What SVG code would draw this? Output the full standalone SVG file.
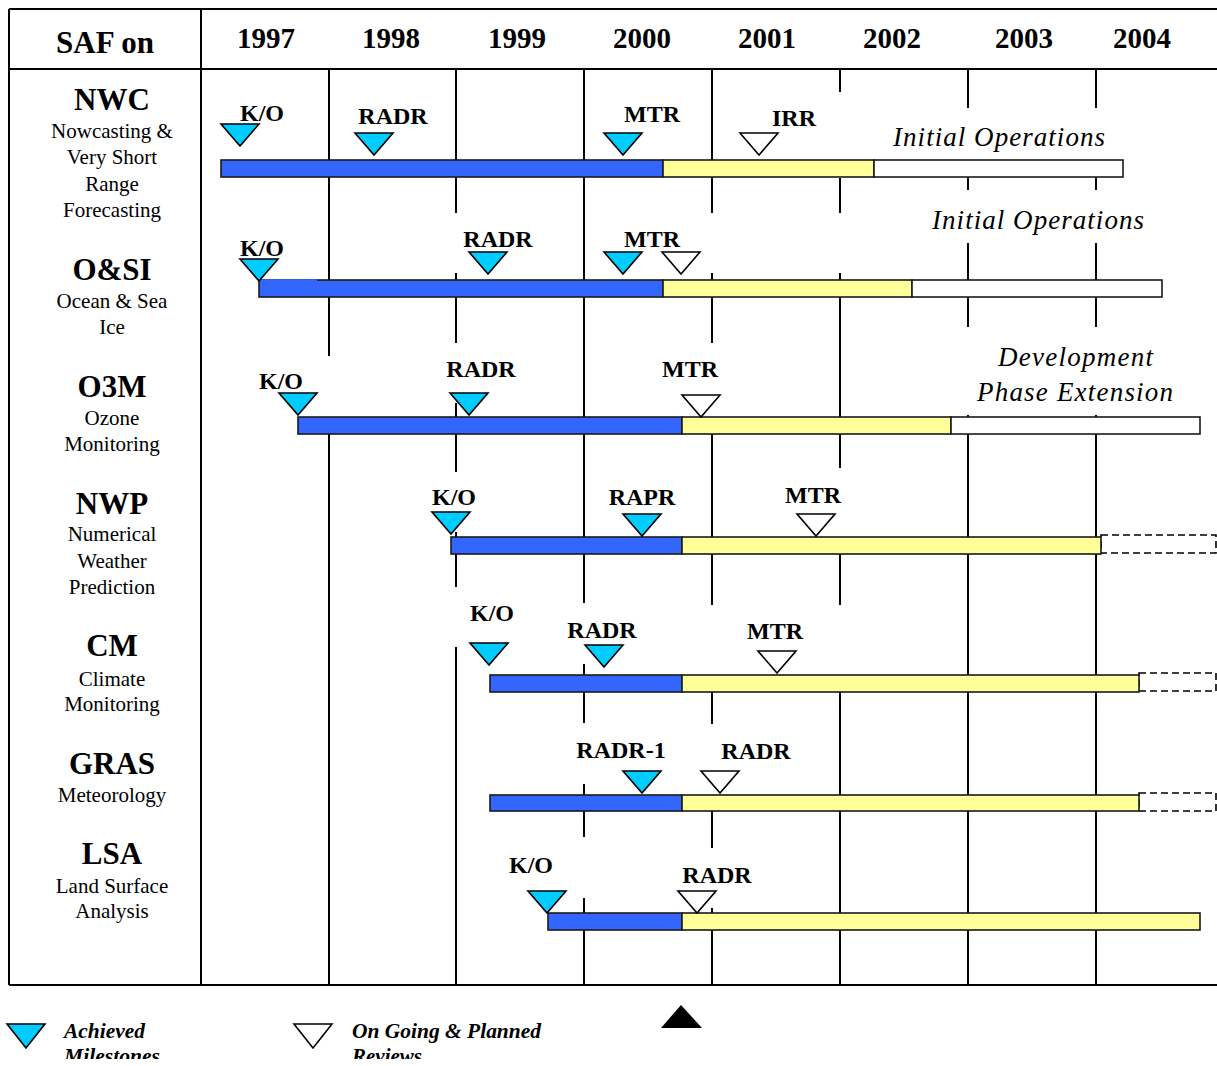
<svg xmlns="http://www.w3.org/2000/svg" width="1217" height="1066" viewBox="0 0 1217 1066">
<style>
  .frame{stroke:#000;stroke-width:2;fill:none}
  .grid{stroke:#000;stroke-width:2;fill:none}
  .bar{stroke:#1a1a1a;stroke-width:1.6}
  .blue{fill:#3366FF}
  .yel{fill:#FFFF99}
  .wht{fill:#FFFFFF}
  .dash{fill:#FFFFFF;stroke:#000;stroke-width:1.6;stroke-dasharray:7,4}
  .ach{fill:#00CCFF;stroke:#000;stroke-width:1.6;stroke-linejoin:miter}
  .plan{fill:#FFFFFF;stroke:#000;stroke-width:1.6}
  text{font-family:"Liberation Serif","Times New Roman",serif;fill:#000}
  .lbl{font-weight:bold;font-size:24px;text-anchor:middle}
  .yr{font-weight:bold;font-size:29px;text-anchor:middle}
  .hd{font-weight:bold;font-size:31px;text-anchor:middle}
  .name{font-weight:bold;font-size:31px;text-anchor:middle}
  .sub{font-size:21px;text-anchor:middle}
  .ital{font-style:italic;font-size:27px}
  .leg{font-style:italic;font-weight:bold;font-size:22px}
</style>
<defs>
  <clipPath id="legclip"><rect x="0" y="990" width="1217" height="69"/></clipPath>
</defs>
<rect x="0" y="0" width="1217" height="1066" fill="#fff"/>

<g id="frame">
  <line class="frame" x1="9" y1="9" x2="1217" y2="9"/>
  <line class="frame" x1="9" y1="69" x2="1217" y2="69"/>
  <line class="frame" x1="9" y1="985" x2="1217" y2="985"/>
  <line class="frame" x1="9" y1="9" x2="9" y2="985"/>
  <line class="frame" x1="201" y1="9" x2="201" y2="985"/>
</g>

<g id="header">
  <text class="hd" x="105" y="53">SAF on</text>
  <text class="yr" x="266" y="48">1997</text>
  <text class="yr" x="391" y="48">1998</text>
  <text class="yr" x="517" y="48">1999</text>
  <text class="yr" x="642" y="48">2000</text>
  <text class="yr" x="767" y="48">2001</text>
  <text class="yr" x="892" y="48">2002</text>
  <text class="yr" x="1024" y="48">2003</text>
  <text class="yr" x="1142" y="48">2004</text>
</g>

<g id="grid">
  <path class="grid" d="M329,69V356M329,417V985"/>
  <path class="grid" d="M456,69V213M456,273V343M456,403V472M456,532V587M456,647V985"/>
  <path class="grid" d="M584,69V603M584,664V723M584,784V837M584,898V985"/>
  <path class="grid" d="M712,69V213M712,273V343M712,417V605M712,692V724M712,795V848M712,908V985"/>
  <path class="grid" d="M840,69V92M840,178V213M840,273V468M840,537V605M840,692V985"/>
  <path class="grid" d="M968,69V108M968,160V190M968,243V327M968,415V985"/>
  <path class="grid" d="M1096,69V108M1096,160V190M1096,243V327M1096,415V985"/>
</g>

<g id="row-nwc">
  <text class="name" x="112" y="110">NWC</text>
  <text class="sub" x="112" y="138">Nowcasting &amp;</text>
  <text class="sub" x="112" y="164">Very Short</text>
  <text class="sub" x="112" y="191">Range</text>
  <text class="sub" x="112" y="217">Forecasting</text>
  <rect class="bar blue" x="221" y="160" width="442" height="17"/>
  <rect class="bar yel" x="663" y="160" width="211" height="17"/>
  <rect class="bar wht" x="874" y="160" width="249" height="17"/>
  <polygon class="ach" points="221,124 259,124 240,146"/>
  <polygon class="ach" points="355,133 393,133 374,155"/>
  <polygon class="ach" points="604,133 642,133 623,155"/>
  <polygon class="plan" points="740,133 778,133 759,155"/>
  <text class="lbl" x="262" y="121">K/O</text>
  <text class="lbl" x="393" y="124">RADR</text>
  <text class="lbl" x="652" y="122">MTR</text>
  <text class="lbl" x="794" y="126">IRR</text>
  <text class="ital" x="893" y="146" textLength="212">Initial Operations</text>
</g>

<g id="row-osi">
  <text class="name" x="112" y="280">O&amp;SI</text>
  <text class="sub" x="112" y="308">Ocean &amp; Sea</text>
  <text class="sub" x="112" y="334">Ice</text>
  <rect class="bar blue" x="259" y="280" width="404" height="17"/>
  <line x1="260" y1="280.2" x2="317" y2="280.2" stroke="#3366FF" stroke-width="2"/>
  <rect class="bar yel" x="663" y="280" width="249" height="17"/>
  <rect class="bar wht" x="912" y="280" width="250" height="17"/>
  <polygon class="ach" points="240,259 278,259 259,281"/>
  <polygon class="ach" points="469,252 507,252 488,274"/>
  <polygon class="ach" points="604,252 642,252 623,274"/>
  <polygon class="plan" points="662,252 700,252 681,274"/>
  <text class="lbl" x="262" y="256">K/O</text>
  <text class="lbl" x="498" y="247">RADR</text>
  <text class="lbl" x="652" y="247">MTR</text>
  <text class="ital" x="932" y="229" textLength="212">Initial Operations</text>
</g>

<g id="row-o3m">
  <text class="name" x="112" y="397">O3M</text>
  <text class="sub" x="112" y="425">Ozone</text>
  <text class="sub" x="112" y="451">Monitoring</text>
  <rect class="bar blue" x="298" y="417" width="384" height="17"/>
  <rect class="bar yel" x="682" y="417" width="269" height="17"/>
  <rect class="bar wht" x="951" y="417" width="249" height="17"/>
  <polygon class="ach" points="279,393 317,393 298,415"/>
  <polygon class="ach" points="450,393 488,393 469,415"/>
  <polygon class="plan" points="682,395 720,395 701,417"/>
  <text class="lbl" x="281" y="389">K/O</text>
  <text class="lbl" x="481" y="377">RADR</text>
  <text class="lbl" x="690" y="377">MTR</text>
  <text class="ital" x="998" y="366" textLength="155">Development</text>
  <text class="ital" x="977" y="401" textLength="196">Phase Extension</text>
</g>

<g id="row-nwp">
  <text class="name" x="112" y="514">NWP</text>
  <text class="sub" x="112" y="541">Numerical</text>
  <text class="sub" x="112" y="568">Weather</text>
  <text class="sub" x="112" y="594">Prediction</text>
  <rect class="dash" x="1101" y="535" width="115" height="18"/>
  <rect class="bar blue" x="451" y="537" width="231" height="17"/>
  <rect class="bar yel" x="682" y="537" width="419" height="17"/>
  <polygon class="ach" points="432,512 470,512 451,534"/>
  <polygon class="ach" points="623,514 661,514 642,536"/>
  <polygon class="plan" points="797,514 835,514 816,536"/>
  <text class="lbl" x="454" y="505">K/O</text>
  <text class="lbl" x="642" y="505">RAPR</text>
  <text class="lbl" x="813" y="503">MTR</text>
</g>

<g id="row-cm">
  <text class="name" x="112" y="656">CM</text>
  <text class="sub" x="112" y="686">Climate</text>
  <text class="sub" x="112" y="711">Monitoring</text>
  <rect class="dash" x="1139" y="673" width="77" height="18"/>
  <rect class="bar blue" x="490" y="675" width="192" height="17"/>
  <rect class="bar yel" x="682" y="675" width="457" height="17"/>
  <polygon class="ach" points="470,643 508,643 489,665"/>
  <polygon class="ach" points="585,645 623,645 604,667"/>
  <polygon class="plan" points="758,651 796,651 777,673"/>
  <text class="lbl" x="492" y="621">K/O</text>
  <text class="lbl" x="602" y="638">RADR</text>
  <text class="lbl" x="775" y="639">MTR</text>
</g>

<g id="row-gras">
  <text class="name" x="112" y="774">GRAS</text>
  <text class="sub" x="112" y="802">Meteorology</text>
  <rect class="dash" x="1139" y="793" width="77" height="18"/>
  <rect class="bar blue" x="490" y="795" width="192" height="16"/>
  <rect class="bar yel" x="682" y="795" width="457" height="16"/>
  <polygon class="ach" points="623,771 661,771 642,793"/>
  <polygon class="plan" points="701,771 739,771 720,793"/>
  <text class="lbl" x="621" y="758">RADR-1</text>
  <text class="lbl" x="756" y="759">RADR</text>
</g>

<g id="row-lsa">
  <text class="name" x="112" y="864">LSA</text>
  <text class="sub" x="112" y="893">Land Surface</text>
  <text class="sub" x="112" y="918">Analysis</text>
  <rect class="bar blue" x="548" y="913" width="134" height="17"/>
  <rect class="bar yel" x="682" y="913" width="518" height="17"/>
  <polygon class="ach" points="528,891 566,891 547,913"/>
  <polygon class="plan" points="678,891 716,891 697,913"/>
  <text class="lbl" x="531" y="873">K/O</text>
  <text class="lbl" x="717" y="883">RADR</text>
</g>

<g id="legend">
  <polygon class="ach" points="7,1024 45,1024 26,1048"/>
  <polygon class="plan" points="294,1024 332,1024 313,1048"/>
  <polygon points="681,1005 702,1028 661,1028" fill="#000"/>
  <g clip-path="url(#legclip)">
    <text class="leg" x="64" y="1038" textLength="81" lengthAdjust="spacingAndGlyphs">Achieved</text>
    <text class="leg" x="64" y="1063" textLength="96" lengthAdjust="spacingAndGlyphs">Milestones</text>
    <text class="leg" x="352" y="1038" textLength="189" lengthAdjust="spacingAndGlyphs">On Going &amp; Planned</text>
    <text class="leg" x="352" y="1063" textLength="70" lengthAdjust="spacingAndGlyphs">Reviews</text>
  </g>
</g>
</svg>
